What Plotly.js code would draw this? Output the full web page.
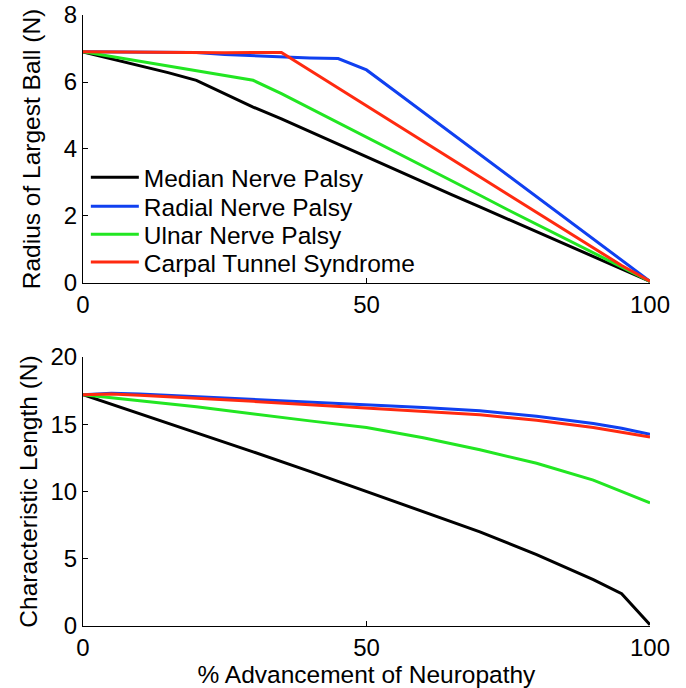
<!DOCTYPE html>
<html>
<head>
<meta charset="utf-8">
<script src="https://cdn.plot.ly/plotly-3.0.1.min.js"></script>
<style>html,body{margin:0;padding:0;background:#fff;}#chart{width:686px;height:688px;}</style>
</head>
<body>
<div id="chart"></div>
<script>
// Shared x values (% advancement of neuropathy)
const xTop = [0, 5, 10, 15, 20, 25, 30, 35, 40, 45, 50, 55, 60, 65, 70, 75, 80, 85, 90, 95, 100];
const seriesNames = ["Median Nerve Palsy", "Radial Nerve Palsy", "Ulnar Nerve Palsy", "Carpal Tunnel Syndrome"];

// Top panel: Radius of Largest Ball (N)
const medianRadius = [6.9, 6.7, 6.5, 6.28, 6.05, 5.65, 5.25, 4.9, 4.52, 4.15, 3.77, 3.4, 3.02, 2.64, 2.27, 1.9, 1.52, 1.14, 0.77, 0.4, 0.05];
const radialRadius = [6.9, 6.9, 6.89, 6.89, 6.88, 6.82, 6.78, 6.75, 6.72, 6.7, 6.36, 5.73, 5.1, 4.47, 3.84, 3.21, 2.58, 1.95, 1.32, 0.69, 0.05];
const ulnarRadius  = [6.9, 6.76, 6.62, 6.49, 6.35, 6.2, 6.05, 5.65, 5.22, 4.78, 4.35, 3.92, 3.48, 3.05, 2.62, 2.18, 1.75, 1.32, 0.9, 0.47, 0.05];
const carpalRadius = [6.9, 6.89, 6.88, 6.88, 6.87, 6.87, 6.88, 6.88, 6.35, 5.82, 5.29, 4.76, 4.23, 3.7, 3.17, 2.64, 2.11, 1.58, 1.05, 0.52, 0.05];

// Bottom panel: Characteristic Length (N)
const xBottom = [0, 5, 10, 20, 30, 40, 50, 60, 70, 80, 90, 95, 100];
const medianLength = [17.2, 16.5, 15.8, 14.4, 12.95, 11.5, 10.0, 8.5, 7.0, 5.3, 3.45, 2.4, 0.1];
const radialLength = [17.2, 17.3, 17.25, 17.05, 16.85, 16.7, 16.5, 16.25, 16.0, 15.6, 15.05, 14.7, 14.25];
const ulnarLength  = [17.2, 17.0, 16.75, 16.3, 15.75, 15.25, 14.75, 14.0, 13.1, 12.1, 10.85, 10.0, 9.15];
const carpalLength = [17.2, 17.25, 17.15, 16.95, 16.7, 16.45, 16.2, 15.95, 15.7, 15.3, 14.75, 14.4, 14.05];

const xTicks = [0, 50, 100];
const yTopTicks = [0, 2, 4, 6, 8];
const yBottomTicks = [0, 5, 10, 15, 20];

const colors = ["#000000", "#1040f0", "#22e622", "#ff2a10"];
const topData = [medianRadius, radialRadius, ulnarRadius, carpalRadius];
const bottomData = [medianLength, radialLength, ulnarLength, carpalLength];
const legendIds = ["legend", "legend2", "legend3", "legend4"];
const legendRowY = [0.7345, 0.6870, 0.6410, 0.5955];

const traces = [];
topData.forEach((ys, i) => {
  traces.push({x: xTop, y: ys, type: "scatter", mode: "lines", name: seriesNames[i], legend: legendIds[i],
    line: {color: colors[i], width: 3}, xaxis: "x", yaxis: "y"});
});
bottomData.forEach((ys, i) => {
  traces.push({x: xBottom, y: ys, type: "scatter", mode: "lines", name: seriesNames[i],
    showlegend: false, line: {color: colors[i], width: 3}, xaxis: "x2", yaxis: "y2"});
});

const fontFam = "Liberation Sans, Arial, Helvetica, sans-serif";
const axisBase = {
  showline: true, linecolor: "#000", linewidth: 1, ticks: "inside", ticklen: 5, tickcolor: "#000",
  showgrid: false, zeroline: false, tickfont: {family: fontFam, size: 24, color: "#000"}, mirror: false
};
const titleFont = {family: fontFam, size: 24.5, color: "#000"};

const layout = {
  width: 686, height: 688,
  margin: {l: 83, r: 36, t: 15, b: 62},
  paper_bgcolor: "#fff", plot_bgcolor: "#fff",
  font: {family: fontFam, color: "#000"},
  showlegend: true,
  xaxis: Object.assign({}, axisBase, {range: [0, 100], tickvals: xTicks, anchor: "y"}),
  yaxis: Object.assign({}, axisBase, {range: [0, 8], tickvals: yTopTicks, domain: [0.5614, 1], anchor: "x",
    title: {text: "Radius of Largest Ball (N)", font: titleFont, standoff: 16}}),
  xaxis2: Object.assign({}, axisBase, {range: [0, 100], tickvals: xTicks, anchor: "y2",
    title: {text: "% Advancement of Neuropathy", font: titleFont, standoff: 0}}),
  yaxis2: Object.assign({}, axisBase, {range: [0, 20], tickvals: yBottomTicks, domain: [0, 0.4403], anchor: "x2",
    title: {text: "Characteristic Length (N)", font: titleFont, standoff: 5}})
};
legendIds.forEach((id, i) => {
  layout[id] = {x: 0.005, y: legendRowY[i], xanchor: "left", yanchor: "middle", bgcolor: "rgba(255,255,255,0)",
    font: {family: fontFam, size: 24.5, color: "#000"}, itemwidth: 48};
});

Plotly.newPlot("chart", traces, layout, {displayModeBar: false, staticPlot: true});
</script>
</body>
</html>
